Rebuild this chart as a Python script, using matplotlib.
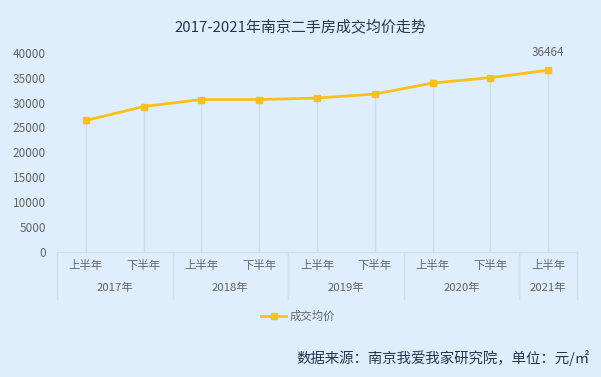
import matplotlib.pyplot as plt
import matplotlib.transforms as mtransforms

plt.rcParams['font.family'] = ['Noto Sans CJK SC', 'DejaVu Sans']

halves = ['上半年', '下半年', '上半年', '下半年', '上半年', '下半年', '上半年', '下半年', '上半年']
years = ['2017年', '2018年', '2019年', '2020年', '2021年']
year_spans = [2, 2, 2, 2, 1]
prices = [26400, 29200, 30600, 30600, 30900, 31700, 33900, 35000, 36464]

bg = '#deeefc'
line_color = '#fcc01a'
grid_color = '#cfdbe8'
text_gray = '#666666'

fig = plt.figure(figsize=(6.01, 3.77), dpi=100, facecolor=bg)
ax_h = 199.3
ax = fig.add_axes([57 / 601, 125 / 377, 520 / 601, ax_h / 377], facecolor=bg)

x = list(range(len(prices)))
ax.set_xlim(-0.5, len(prices) - 0.5)
ax.set_ylim(0, 40000)

# drop lines from each point to the axis
ax.vlines(x, 0, prices, color=grid_color, lw=1, zorder=1)
ax.plot(x, prices, color=line_color, lw=2, marker='s', markersize=5, zorder=3, label='成交均价')
ax.annotate(f'{prices[-1]}', (x[-1], prices[-1]), xytext=(0, 8), textcoords='offset points',
            ha='center', va='bottom', fontsize=8.5, color=text_gray)

ax.set_yticks(range(0, 40001, 5000))
ax.tick_params(axis='y', length=0, pad=8, labelsize=8.5, labelcolor=text_gray)
ax.set_xticks([])
for s in ['top', 'right', 'left']:
    ax.spines[s].set_visible(False)
ax.spines['bottom'].set_color('#d5dde6')

# two-level category axis
trans = mtransforms.blended_transform_factory(ax.transData, ax.transAxes)
box_h = -46.5 / ax_h
for i, h in enumerate(halves):
    ax.text(i, -14 / ax_h, h, transform=trans, ha='center', va='center', fontsize=8.2, color=text_gray)
edges = [-0.5]
for span in year_spans:
    edges.append(edges[-1] + span)
for j, yr in enumerate(years):
    ax.text((edges[j] + edges[j + 1]) / 2, -36 / ax_h, yr, transform=trans,
            ha='center', va='center', fontsize=8.2, color=text_gray)
for e in edges:
    ax.plot([e, e], [0, box_h], transform=trans, color='#d5dde6', lw=1, clip_on=False)

fig.text(0.5, 1 - 27 / 377, '2017-2021年南京二手房成交均价走势', ha='center', va='center',
         fontsize=10.8, color='#2a3550')

leg = fig.legend(loc='center', bbox_to_anchor=(298 / 601, 1 - 316 / 377), frameon=False,
                 fontsize=8.2, handlelength=2.2, handletextpad=0.3, labelcolor=text_gray)

fig.text(590 / 601, 1 - 358 / 377, '数据来源：南京我爱我家研究院，单位：元/㎡', ha='right', va='center',
         fontsize=10.4, color='#2a3550')

fig.savefig('out.png', dpi=100, facecolor=bg)
